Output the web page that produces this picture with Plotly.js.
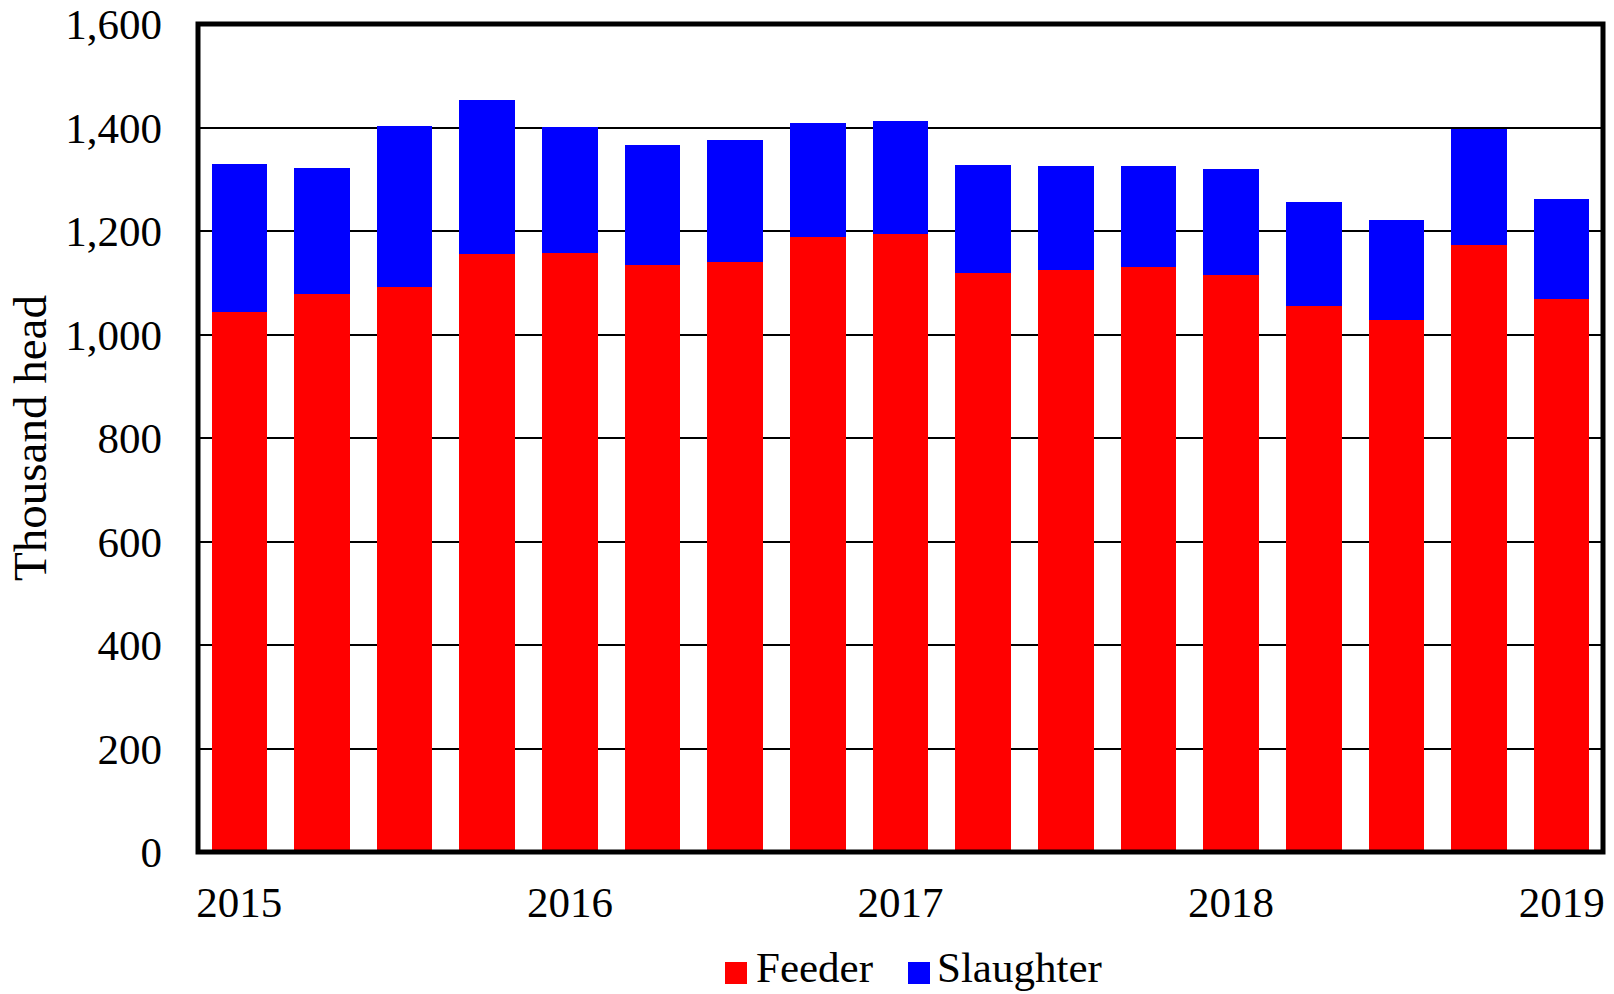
<!DOCTYPE html>
<html>
<head>
<meta charset="utf-8">
<script src="https://cdn.plot.ly/plotly-3.0.1.min.js"></script>
<style>
  html, body { margin: 0; padding: 0; background: #ffffff; }
  #chart { width: 1614px; height: 994px; }
</style>
</head>
<body>
<div id="chart"></div>
<script>
// Quarterly data, 2015 Q1 - 2019 Q1 (thousand head)
const quarters = [
  "2015 Q1", "2015 Q2", "2015 Q3", "2015 Q4",
  "2016 Q1", "2016 Q2", "2016 Q3", "2016 Q4",
  "2017 Q1", "2017 Q2", "2017 Q3", "2017 Q4",
  "2018 Q1", "2018 Q2", "2018 Q3", "2018 Q4",
  "2019 Q1"
];
const feeder = [1044, 1078, 1091, 1155, 1158, 1135, 1140, 1189, 1194,
                1118, 1124, 1131, 1115, 1055, 1028, 1172, 1069];
const slaughter = [285, 243, 312, 298, 243, 231, 236, 219, 218,
                   209, 201, 194, 205, 202, 193, 226, 193];
const tickQuarters = ["2015 Q1", "2016 Q1", "2017 Q1", "2018 Q1", "2019 Q1"];
const tickYears = ["2015", "2016", "2017", "2018", "2019"];
const yTicks = [0, 200, 400, 600, 800, 1000, 1200, 1400, 1600];

const seriesNames = ["Feeder", "Slaughter"];
const seriesColors = ["#ff0000", "#0000ff"];

const FONT = "Liberation Serif, Times New Roman, serif";

const traces = [
  { type: "bar", name: seriesNames[0], x: quarters, y: feeder,
    marker: { color: seriesColors[0] }, showlegend: false },
  { type: "bar", name: seriesNames[1], x: quarters, y: slaughter,
    marker: { color: seriesColors[1] }, showlegend: false }
];

// plot area geometry (pixels) used to place the custom legend
const L = 198, R = 11, T = 24, B = 142;
const W = 1614 - L - R, H = 994 - T - B;
const px = v => (v - L) / W;
const py = v => (994 - B - v) / H;

const layout = {
  width: 1614, height: 994,
  margin: { l: L, r: R, t: T, b: B },
  paper_bgcolor: "#ffffff", plot_bgcolor: "#ffffff",
  barmode: "stack",
  bargap: 0.327,
  font: { family: FONT, size: 43, color: "#000000" },
  showlegend: false,
  xaxis: {
    type: "category",
    range: [-0.5, quarters.length - 0.5],
    tickvals: tickQuarters, ticktext: tickYears,
    ticks: "", ticklabelstandoff: 21,
    showgrid: false, zeroline: false, showline: false,
    tickfont: { family: FONT, size: 43, color: "#000000" }
  },
  yaxis: {
    range: [0, 1600],
    tickvals: yTicks,
    tickformat: ",d",
    ticks: "", ticklabelstandoff: 35,
    showgrid: true, gridcolor: "#000000", gridwidth: 2,
    zeroline: false, showline: false,
    tickfont: { family: FONT, size: 43, color: "#000000" },
    title: { text: "Thousand head", font: { family: FONT, size: 47, color: "#000000" }, standoff: 3 }
  },
  shapes: [
    // plot frame, centred on the plot edges
    { type: "rect", xref: "paper", yref: "paper", x0: 0, x1: 1, y0: 0, y1: 1,
      line: { color: "#000000", width: 5 }, fillcolor: "rgba(0,0,0,0)", layer: "above" },
    // legend swatches
    { type: "rect", xref: "paper", yref: "paper",
      x0: px(725), x1: px(747), y0: py(984), y1: py(962),
      fillcolor: seriesColors[0], line: { width: 0 } },
    { type: "rect", xref: "paper", yref: "paper",
      x0: px(908), x1: px(930), y0: py(984), y1: py(962),
      fillcolor: seriesColors[1], line: { width: 0 } }
  ],
  annotations: [
    { xref: "paper", yref: "paper", x: px(754), y: py(967), xanchor: "left", yanchor: "middle",
      text: seriesNames[0], showarrow: false, font: { family: FONT, size: 43, color: "#000000" } },
    { xref: "paper", yref: "paper", x: px(935), y: py(967), xanchor: "left", yanchor: "middle",
      text: seriesNames[1], showarrow: false, font: { family: FONT, size: 43, color: "#000000" } }
  ]
};

Plotly.newPlot("chart", traces, layout, { displayModeBar: false, staticPlot: true });
</script>
</body>
</html>
